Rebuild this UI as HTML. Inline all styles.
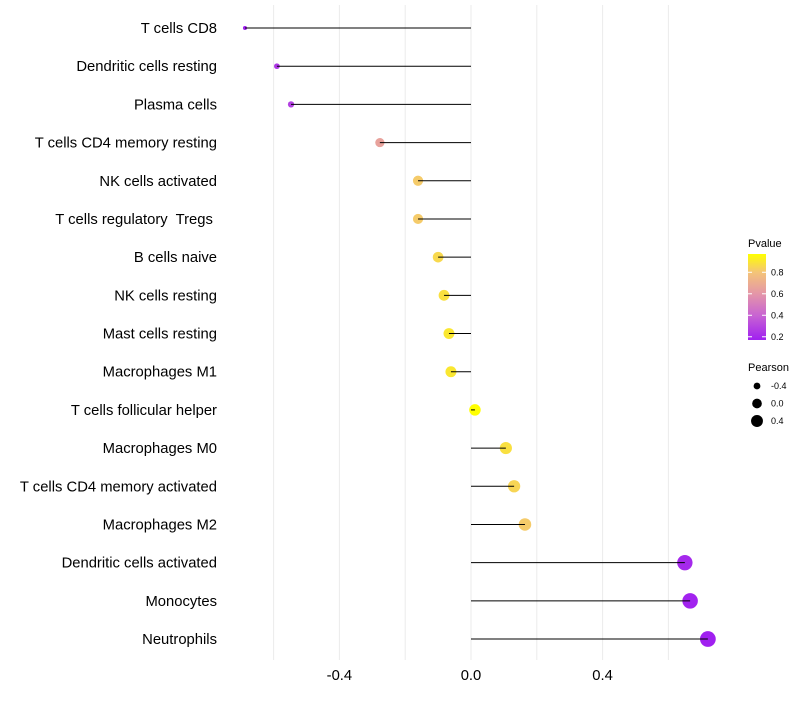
<!DOCTYPE html>
<html><head><meta charset="utf-8"><style>
body{margin:0;background:#fff;font-family:"Liberation Sans",sans-serif}
text{white-space:pre}
</style></head><body>
<svg id="c" width="800" height="700" xmlns="http://www.w3.org/2000/svg"></svg>
<script>
const categories=["T cells CD8","Dendritic cells resting","Plasma cells","T cells CD4 memory resting","NK cells activated","T cells regulatory  Tregs ","B cells naive","NK cells resting","Mast cells resting","Macrophages M1","T cells follicular helper","Macrophages M0","T cells CD4 memory activated","Macrophages M2","Dendritic cells activated","Monocytes","Neutrophils"];
const pearson=[-0.687,-0.59,-0.547,-0.277,-0.161,-0.161,-0.10,-0.082,-0.067,-0.061,0.012,0.106,0.131,0.164,0.65,0.666,0.72];
const pvalue=[0.17,0.25,0.28,0.65,0.82,0.82,0.86,0.88,0.9,0.9,0.97,0.88,0.85,0.82,0.2,0.18,0.17];
const xTicks=[-0.4,0.0,0.4];
const gridVals=[-0.6,-0.4,-0.2,0,0.2,0.4,0.6];
const legendP=[0.8,0.6,0.4,0.2];
const legendR=[-0.4,0.0,0.4];

const svg=document.getElementById('c');const NS="http://www.w3.org/2000/svg";
function el(t,a,p){const e=document.createElementNS(NS,t);for(const k in a)e.setAttribute(k,a[k]);(p||svg).appendChild(e);return e;}
const x=v=>471+v*329;
const y=i=>28+i*38.19;
const rad=v=>Math.sqrt(Math.max(1.5,32.5+41.25*v));
const stops=[[0.17,[160,32,240]],[0.4,[200,100,210]],[0.6,[228,150,168]],[0.8,[244,196,120]],[0.97,[255,255,0]]];
function col(p){if(p<=stops[0][0])return `rgb(${stops[0][1]})`;for(let i=1;i<stops.length;i++){if(p<=stops[i][0]){const t=(p-stops[i-1][0])/(stops[i][0]-stops[i-1][0]);const c=stops[i-1][1].map((v,j)=>Math.round(v+t*(stops[i][1][j]-v)));return `rgb(${c})`;}}return `rgb(${stops[stops.length-1][1]})`;}

gridVals.forEach(g=>{const l=el('line',{x1:x(g),x2:x(g),y1:5,y2:660,stroke:'#ebebeb','stroke-width':1});
});
xTicks.forEach(t=>{const e=el('text',{x:x(t),y:680,'text-anchor':'middle','font-size':14.8,fill:'#000'});e.textContent=t.toFixed(1);
});
categories.forEach((c,i)=>{
 const t=el('text',{x:217,y:y(i)+5,'text-anchor':'end','font-size':14.8,fill:'#000'});t.textContent=c;
 
 const pt=el('circle',{cx:x(pearson[i]),cy:y(i),r:rad(pearson[i]),fill:col(pvalue[i])});
 
 const s=el('line',{x1:x(0),x2:x(pearson[i]),y1:y(i),y2:y(i),stroke:'#000','stroke-width':1});
 
});
const lt=el('text',{x:748,y:247,'font-size':11});lt.textContent='Pvalue';

const defs=el('defs',{});const gr=el('linearGradient',{id:'g',x1:0,y1:1,x2:0,y2:0},defs);
stops.forEach(s=>el('stop',{offset:((s[0]-0.17)/0.8),'stop-color':`rgb(${s[1]})`},gr));
const bar=el('rect',{x:748,y:254,width:18,height:86,fill:'url(#g)'});

const py=p=>340-(p-0.17)/0.8*86;
legendP.forEach(p=>{el('line',{x1:748,x2:752,y1:py(p),y2:py(p),stroke:'#fff'});el('line',{x1:762,x2:766,y1:py(p),y2:py(p),stroke:'#fff'});
 const t=el('text',{x:771,y:py(p)+3,'font-size':9});t.textContent=p.toFixed(1);
 });
const st=el('text',{x:748,y:371,'font-size':11});st.textContent='Pearson';

legendR.forEach((v,i)=>{const cy=386+i*17.5;const c=el('circle',{cx:757,cy:cy,r:rad(v)*0.85,fill:'#000'});
 
 const t=el('text',{x:771,y:cy+3,'font-size':9});t.textContent=v.toFixed(1);
 });
</script>
</body></html>
